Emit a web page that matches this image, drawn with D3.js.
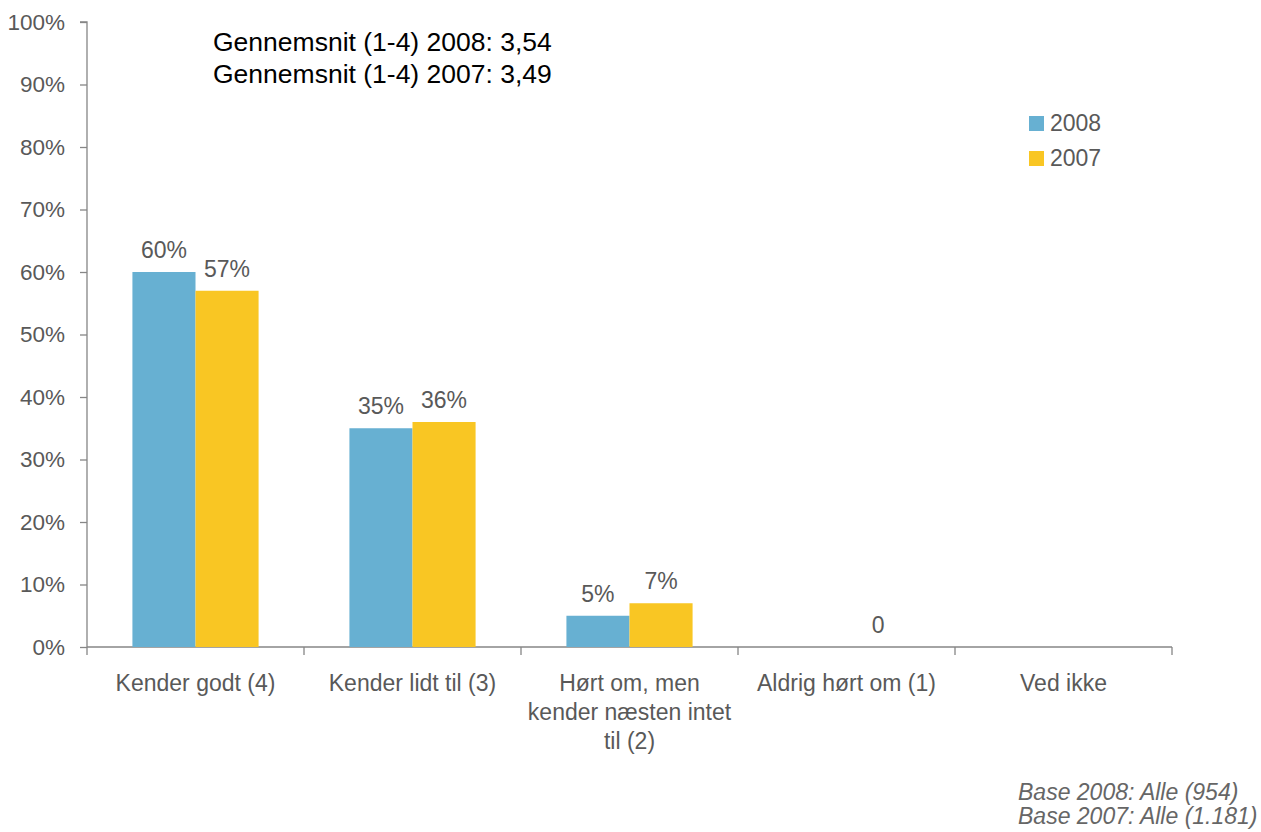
<!DOCTYPE html>
<html>
<head>
<meta charset="utf-8">
<script src="https://cdn.jsdelivr.net/npm/d3@7"></script>
<style>
  body { margin: 0; background: #fff; }
  svg { display: block; font-family: "Liberation Sans", Arial, sans-serif; }
</style>
</head>
<body>
<svg id="chart" width="1261" height="832"></svg>
<script>
// Categories (answer options), with line breaks for wrapped labels
const categories = ["Kender godt (4)", "Kender lidt til (3)", "Hørt om, men|kender næsten intet|til (2)", "Aldrig hørt om (1)", "Ved ikke"];
const seriesNames = ["2008", "2007"];
const values2008 = [60, 35, 5, null, null];
const values2007 = [57, 36, 7, 0, null];
const labels2008 = ["60%", "35%", "5%", "", ""];
const labels2007 = ["57%", "36%", "7%", "0", ""];
const yTicks = [0, 10, 20, 30, 40, 50, 60, 70, 80, 90, 100];
const colors = ["#67B0D2", "#F9C623"];
const notes = ["Gennemsnit (1-4) 2008: 3,54", "Gennemsnit (1-4) 2007: 3,49"];
const baseNotes = ["Base 2008: Alle (954)", "Base 2007: Alle (1.181)"];

const svg = d3.select("#chart");
const plotLeft = 87, plotRight = 1172, plotTop = 22, plotBottom = 647;
const grey = "#595959", axisGrey = "#868686";
const fs = "23px";

const x = d3.scaleBand().domain(categories).range([plotLeft, plotRight]).paddingInner(0).paddingOuter(0);
const y = d3.scaleLinear().domain([0, 100]).range([plotBottom, plotTop]);
const inner = d3.scaleBand().domain(seriesNames).range([0, x.bandwidth()]).paddingInner(0).paddingOuter(0.72);

// Y axis
const yAxis = svg.append("g").attr("transform", `translate(${plotLeft},0)`)
  .call(d3.axisLeft(y).tickValues(yTicks).tickFormat(d => d + "%").tickSize(7).tickPadding(15));
yAxis.select(".domain").attr("stroke", axisGrey).attr("stroke-width", 1.3).attr("d", `M-7,${plotTop}H0V${plotBottom}`);
yAxis.selectAll(".tick line").attr("stroke", axisGrey).attr("stroke-width", 1.3);
yAxis.selectAll(".tick text").attr("fill", grey).style("font-size", "22.5px");

// X axis with ticks at category boundaries
const xg = svg.append("g");
xg.append("line").attr("x1", plotLeft).attr("x2", plotRight).attr("y1", plotBottom).attr("y2", plotBottom)
  .attr("stroke", axisGrey).attr("stroke-width", 1.3);
const bounds = categories.map(c => x(c)).concat([plotRight]);
xg.selectAll("line.tk").data(bounds).join("line").attr("class", "tk")
  .attr("x1", d => d).attr("x2", d => d).attr("y1", plotBottom).attr("y2", plotBottom + 8)
  .attr("stroke", axisGrey).attr("stroke-width", 1.3);

// Category labels
categories.forEach(c => {
  const lines = c.split("|");
  const cx = x(c) + x.bandwidth() / 2;
  const t = svg.append("text").attr("x", cx).attr("y", 691)
    .attr("text-anchor", "middle").attr("fill", grey).style("font-size", fs);
  lines.forEach((l, i) => t.append("tspan").attr("x", cx).attr("dy", i === 0 ? 0 : 29).text(l));
});

// Bars and value labels
const series = [values2008, values2007];
const seriesLabels = [labels2008, labels2007];
series.forEach((vals, si) => {
  const g = svg.append("g");
  categories.forEach((c, ci) => {
    const v = vals[ci];
    if (v === null) return;
    const bx = x(c) + inner(seriesNames[si]);
    g.append("rect").attr("x", bx).attr("y", y(v)).attr("width", inner.bandwidth())
      .attr("height", plotBottom - y(v)).attr("fill", colors[si]);
    if (seriesLabels[si][ci]) {
      g.append("text").attr("x", bx + inner.bandwidth() / 2).attr("y", y(v) - 14)
        .attr("text-anchor", "middle").attr("fill", grey).style("font-size", fs)
        .text(seriesLabels[si][ci]);
    }
  });
});

// Averages note
notes.forEach((n, i) => {
  svg.append("text").attr("x", 213).attr("y", 51 + i * 32).attr("fill", "#000")
    .style("font-size", "26.5px").text(n);
});

// Legend
seriesNames.forEach((s, i) => {
  svg.append("rect").attr("x", 1029).attr("y", 116 + i * 35).attr("width", 15).attr("height", 15).attr("fill", colors[i]);
  svg.append("text").attr("x", 1050).attr("y", 131 + i * 35).attr("fill", grey).style("font-size", fs).text(s);
});

// Base notes
baseNotes.forEach((b, i) => {
  svg.append("text").attr("x", 1018).attr("y", 800 + i * 24)
    .attr("fill", "#666").style("font-size", "23px").style("font-style", "italic").text(b);
});
</script>
</body>
</html>
